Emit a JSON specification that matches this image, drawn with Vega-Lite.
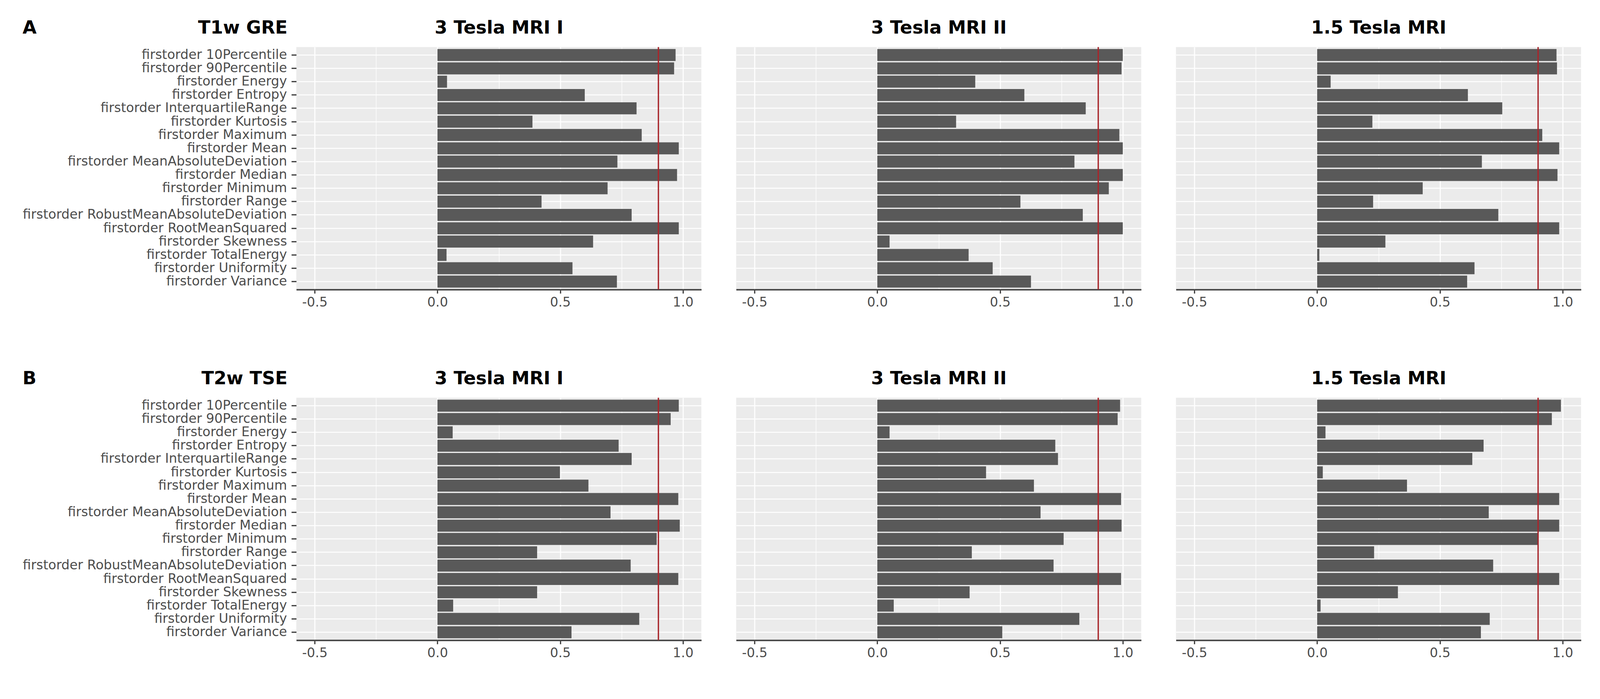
{
  "$schema": "https://vega.github.io/schema/vega-lite/v6.json",
  "background": "white",
  "padding": {"left": 57.5, "top": 48.5, "right": 20, "bottom": 20},
  "config": {
    "font": "DejaVu Sans",
    "view": {"fill": "#EBEBEB", "stroke": null},
    "title": {"fontSize": 46.5, "fontWeight": "bold", "color": "black", "font": "DejaVu Sans"},
    "axis": {
      "gridColor": "white",
      "labelColor": "#4D4D4D",
      "labelFont": "DejaVu Sans",
      "titleFont": "DejaVu Sans",
      "tickColor": "#333333",
      "tickWidth": 3,
      "domain": false,
      "labelLimit": 1000
    }
  },
  "datasets": {
    "cutoff": [{"cutoff": 0.9}],
    "scores": [
      {"sequence": "T1w GRE", "scanner": "3 Tesla MRI I", "feature": "firstorder 10Percentile", "value": 0.970},
      {"sequence": "T1w GRE", "scanner": "3 Tesla MRI I", "feature": "firstorder 90Percentile", "value": 0.964},
      {"sequence": "T1w GRE", "scanner": "3 Tesla MRI I", "feature": "firstorder Energy", "value": 0.039},
      {"sequence": "T1w GRE", "scanner": "3 Tesla MRI I", "feature": "firstorder Entropy", "value": 0.600},
      {"sequence": "T1w GRE", "scanner": "3 Tesla MRI I", "feature": "firstorder InterquartileRange", "value": 0.811},
      {"sequence": "T1w GRE", "scanner": "3 Tesla MRI I", "feature": "firstorder Kurtosis", "value": 0.387},
      {"sequence": "T1w GRE", "scanner": "3 Tesla MRI I", "feature": "firstorder Maximum", "value": 0.832},
      {"sequence": "T1w GRE", "scanner": "3 Tesla MRI I", "feature": "firstorder Mean", "value": 0.983},
      {"sequence": "T1w GRE", "scanner": "3 Tesla MRI I", "feature": "firstorder MeanAbsoluteDeviation", "value": 0.733},
      {"sequence": "T1w GRE", "scanner": "3 Tesla MRI I", "feature": "firstorder Median", "value": 0.976},
      {"sequence": "T1w GRE", "scanner": "3 Tesla MRI I", "feature": "firstorder Minimum", "value": 0.693},
      {"sequence": "T1w GRE", "scanner": "3 Tesla MRI I", "feature": "firstorder Range", "value": 0.424},
      {"sequence": "T1w GRE", "scanner": "3 Tesla MRI I", "feature": "firstorder RobustMeanAbsoluteDeviation", "value": 0.791},
      {"sequence": "T1w GRE", "scanner": "3 Tesla MRI I", "feature": "firstorder RootMeanSquared", "value": 0.983},
      {"sequence": "T1w GRE", "scanner": "3 Tesla MRI I", "feature": "firstorder Skewness", "value": 0.634},
      {"sequence": "T1w GRE", "scanner": "3 Tesla MRI I", "feature": "firstorder TotalEnergy", "value": 0.037},
      {"sequence": "T1w GRE", "scanner": "3 Tesla MRI I", "feature": "firstorder Uniformity", "value": 0.550},
      {"sequence": "T1w GRE", "scanner": "3 Tesla MRI I", "feature": "firstorder Variance", "value": 0.731},
      {"sequence": "T1w GRE", "scanner": "3 Tesla MRI II", "feature": "firstorder 10Percentile", "value": 1.000},
      {"sequence": "T1w GRE", "scanner": "3 Tesla MRI II", "feature": "firstorder 90Percentile", "value": 0.995},
      {"sequence": "T1w GRE", "scanner": "3 Tesla MRI II", "feature": "firstorder Energy", "value": 0.399},
      {"sequence": "T1w GRE", "scanner": "3 Tesla MRI II", "feature": "firstorder Entropy", "value": 0.599},
      {"sequence": "T1w GRE", "scanner": "3 Tesla MRI II", "feature": "firstorder InterquartileRange", "value": 0.849},
      {"sequence": "T1w GRE", "scanner": "3 Tesla MRI II", "feature": "firstorder Kurtosis", "value": 0.321},
      {"sequence": "T1w GRE", "scanner": "3 Tesla MRI II", "feature": "firstorder Maximum", "value": 0.986},
      {"sequence": "T1w GRE", "scanner": "3 Tesla MRI II", "feature": "firstorder Mean", "value": 1.000},
      {"sequence": "T1w GRE", "scanner": "3 Tesla MRI II", "feature": "firstorder MeanAbsoluteDeviation", "value": 0.803},
      {"sequence": "T1w GRE", "scanner": "3 Tesla MRI II", "feature": "firstorder Median", "value": 1.000},
      {"sequence": "T1w GRE", "scanner": "3 Tesla MRI II", "feature": "firstorder Minimum", "value": 0.943},
      {"sequence": "T1w GRE", "scanner": "3 Tesla MRI II", "feature": "firstorder Range", "value": 0.583},
      {"sequence": "T1w GRE", "scanner": "3 Tesla MRI II", "feature": "firstorder RobustMeanAbsoluteDeviation", "value": 0.837},
      {"sequence": "T1w GRE", "scanner": "3 Tesla MRI II", "feature": "firstorder RootMeanSquared", "value": 1.000},
      {"sequence": "T1w GRE", "scanner": "3 Tesla MRI II", "feature": "firstorder Skewness", "value": 0.050},
      {"sequence": "T1w GRE", "scanner": "3 Tesla MRI II", "feature": "firstorder TotalEnergy", "value": 0.372},
      {"sequence": "T1w GRE", "scanner": "3 Tesla MRI II", "feature": "firstorder Uniformity", "value": 0.470},
      {"sequence": "T1w GRE", "scanner": "3 Tesla MRI II", "feature": "firstorder Variance", "value": 0.626},
      {"sequence": "T1w GRE", "scanner": "1.5 Tesla MRI", "feature": "firstorder 10Percentile", "value": 0.975},
      {"sequence": "T1w GRE", "scanner": "1.5 Tesla MRI", "feature": "firstorder 90Percentile", "value": 0.977},
      {"sequence": "T1w GRE", "scanner": "1.5 Tesla MRI", "feature": "firstorder Energy", "value": 0.055},
      {"sequence": "T1w GRE", "scanner": "1.5 Tesla MRI", "feature": "firstorder Entropy", "value": 0.614},
      {"sequence": "T1w GRE", "scanner": "1.5 Tesla MRI", "feature": "firstorder InterquartileRange", "value": 0.754},
      {"sequence": "T1w GRE", "scanner": "1.5 Tesla MRI", "feature": "firstorder Kurtosis", "value": 0.225},
      {"sequence": "T1w GRE", "scanner": "1.5 Tesla MRI", "feature": "firstorder Maximum", "value": 0.917},
      {"sequence": "T1w GRE", "scanner": "1.5 Tesla MRI", "feature": "firstorder Mean", "value": 0.986},
      {"sequence": "T1w GRE", "scanner": "1.5 Tesla MRI", "feature": "firstorder MeanAbsoluteDeviation", "value": 0.671},
      {"sequence": "T1w GRE", "scanner": "1.5 Tesla MRI", "feature": "firstorder Median", "value": 0.979},
      {"sequence": "T1w GRE", "scanner": "1.5 Tesla MRI", "feature": "firstorder Minimum", "value": 0.430},
      {"sequence": "T1w GRE", "scanner": "1.5 Tesla MRI", "feature": "firstorder Range", "value": 0.228},
      {"sequence": "T1w GRE", "scanner": "1.5 Tesla MRI", "feature": "firstorder RobustMeanAbsoluteDeviation", "value": 0.738},
      {"sequence": "T1w GRE", "scanner": "1.5 Tesla MRI", "feature": "firstorder RootMeanSquared", "value": 0.986},
      {"sequence": "T1w GRE", "scanner": "1.5 Tesla MRI", "feature": "firstorder Skewness", "value": 0.278},
      {"sequence": "T1w GRE", "scanner": "1.5 Tesla MRI", "feature": "firstorder TotalEnergy", "value": 0.009},
      {"sequence": "T1w GRE", "scanner": "1.5 Tesla MRI", "feature": "firstorder Uniformity", "value": 0.641},
      {"sequence": "T1w GRE", "scanner": "1.5 Tesla MRI", "feature": "firstorder Variance", "value": 0.611},
      {"sequence": "T2w TSE", "scanner": "3 Tesla MRI I", "feature": "firstorder 10Percentile", "value": 0.983},
      {"sequence": "T2w TSE", "scanner": "3 Tesla MRI I", "feature": "firstorder 90Percentile", "value": 0.950},
      {"sequence": "T2w TSE", "scanner": "3 Tesla MRI I", "feature": "firstorder Energy", "value": 0.062},
      {"sequence": "T2w TSE", "scanner": "3 Tesla MRI I", "feature": "firstorder Entropy", "value": 0.738},
      {"sequence": "T2w TSE", "scanner": "3 Tesla MRI I", "feature": "firstorder InterquartileRange", "value": 0.791},
      {"sequence": "T2w TSE", "scanner": "3 Tesla MRI I", "feature": "firstorder Kurtosis", "value": 0.499},
      {"sequence": "T2w TSE", "scanner": "3 Tesla MRI I", "feature": "firstorder Maximum", "value": 0.615},
      {"sequence": "T2w TSE", "scanner": "3 Tesla MRI I", "feature": "firstorder Mean", "value": 0.981},
      {"sequence": "T2w TSE", "scanner": "3 Tesla MRI I", "feature": "firstorder MeanAbsoluteDeviation", "value": 0.705},
      {"sequence": "T2w TSE", "scanner": "3 Tesla MRI I", "feature": "firstorder Median", "value": 0.987},
      {"sequence": "T2w TSE", "scanner": "3 Tesla MRI I", "feature": "firstorder Minimum", "value": 0.893},
      {"sequence": "T2w TSE", "scanner": "3 Tesla MRI I", "feature": "firstorder Range", "value": 0.406},
      {"sequence": "T2w TSE", "scanner": "3 Tesla MRI I", "feature": "firstorder RobustMeanAbsoluteDeviation", "value": 0.787},
      {"sequence": "T2w TSE", "scanner": "3 Tesla MRI I", "feature": "firstorder RootMeanSquared", "value": 0.981},
      {"sequence": "T2w TSE", "scanner": "3 Tesla MRI I", "feature": "firstorder Skewness", "value": 0.406},
      {"sequence": "T2w TSE", "scanner": "3 Tesla MRI I", "feature": "firstorder TotalEnergy", "value": 0.064},
      {"sequence": "T2w TSE", "scanner": "3 Tesla MRI I", "feature": "firstorder Uniformity", "value": 0.822},
      {"sequence": "T2w TSE", "scanner": "3 Tesla MRI I", "feature": "firstorder Variance", "value": 0.546},
      {"sequence": "T2w TSE", "scanner": "3 Tesla MRI II", "feature": "firstorder 10Percentile", "value": 0.989},
      {"sequence": "T2w TSE", "scanner": "3 Tesla MRI II", "feature": "firstorder 90Percentile", "value": 0.979},
      {"sequence": "T2w TSE", "scanner": "3 Tesla MRI II", "feature": "firstorder Energy", "value": 0.050},
      {"sequence": "T2w TSE", "scanner": "3 Tesla MRI II", "feature": "firstorder Entropy", "value": 0.725},
      {"sequence": "T2w TSE", "scanner": "3 Tesla MRI II", "feature": "firstorder InterquartileRange", "value": 0.736},
      {"sequence": "T2w TSE", "scanner": "3 Tesla MRI II", "feature": "firstorder Kurtosis", "value": 0.443},
      {"sequence": "T2w TSE", "scanner": "3 Tesla MRI II", "feature": "firstorder Maximum", "value": 0.638},
      {"sequence": "T2w TSE", "scanner": "3 Tesla MRI II", "feature": "firstorder Mean", "value": 0.993},
      {"sequence": "T2w TSE", "scanner": "3 Tesla MRI II", "feature": "firstorder MeanAbsoluteDeviation", "value": 0.665},
      {"sequence": "T2w TSE", "scanner": "3 Tesla MRI II", "feature": "firstorder Median", "value": 0.995},
      {"sequence": "T2w TSE", "scanner": "3 Tesla MRI II", "feature": "firstorder Minimum", "value": 0.759},
      {"sequence": "T2w TSE", "scanner": "3 Tesla MRI II", "feature": "firstorder Range", "value": 0.385},
      {"sequence": "T2w TSE", "scanner": "3 Tesla MRI II", "feature": "firstorder RobustMeanAbsoluteDeviation", "value": 0.718},
      {"sequence": "T2w TSE", "scanner": "3 Tesla MRI II", "feature": "firstorder RootMeanSquared", "value": 0.993},
      {"sequence": "T2w TSE", "scanner": "3 Tesla MRI II", "feature": "firstorder Skewness", "value": 0.376},
      {"sequence": "T2w TSE", "scanner": "3 Tesla MRI II", "feature": "firstorder TotalEnergy", "value": 0.067},
      {"sequence": "T2w TSE", "scanner": "3 Tesla MRI II", "feature": "firstorder Uniformity", "value": 0.823},
      {"sequence": "T2w TSE", "scanner": "3 Tesla MRI II", "feature": "firstorder Variance", "value": 0.509},
      {"sequence": "T2w TSE", "scanner": "1.5 Tesla MRI", "feature": "firstorder 10Percentile", "value": 0.993},
      {"sequence": "T2w TSE", "scanner": "1.5 Tesla MRI", "feature": "firstorder 90Percentile", "value": 0.956},
      {"sequence": "T2w TSE", "scanner": "1.5 Tesla MRI", "feature": "firstorder Energy", "value": 0.034},
      {"sequence": "T2w TSE", "scanner": "1.5 Tesla MRI", "feature": "firstorder Entropy", "value": 0.678},
      {"sequence": "T2w TSE", "scanner": "1.5 Tesla MRI", "feature": "firstorder InterquartileRange", "value": 0.632},
      {"sequence": "T2w TSE", "scanner": "1.5 Tesla MRI", "feature": "firstorder Kurtosis", "value": 0.023},
      {"sequence": "T2w TSE", "scanner": "1.5 Tesla MRI", "feature": "firstorder Maximum", "value": 0.366},
      {"sequence": "T2w TSE", "scanner": "1.5 Tesla MRI", "feature": "firstorder Mean", "value": 0.986},
      {"sequence": "T2w TSE", "scanner": "1.5 Tesla MRI", "feature": "firstorder MeanAbsoluteDeviation", "value": 0.699},
      {"sequence": "T2w TSE", "scanner": "1.5 Tesla MRI", "feature": "firstorder Median", "value": 0.986},
      {"sequence": "T2w TSE", "scanner": "1.5 Tesla MRI", "feature": "firstorder Minimum", "value": 0.899},
      {"sequence": "T2w TSE", "scanner": "1.5 Tesla MRI", "feature": "firstorder Range", "value": 0.232},
      {"sequence": "T2w TSE", "scanner": "1.5 Tesla MRI", "feature": "firstorder RobustMeanAbsoluteDeviation", "value": 0.717},
      {"sequence": "T2w TSE", "scanner": "1.5 Tesla MRI", "feature": "firstorder RootMeanSquared", "value": 0.986},
      {"sequence": "T2w TSE", "scanner": "1.5 Tesla MRI", "feature": "firstorder Skewness", "value": 0.329},
      {"sequence": "T2w TSE", "scanner": "1.5 Tesla MRI", "feature": "firstorder TotalEnergy", "value": 0.014},
      {"sequence": "T2w TSE", "scanner": "1.5 Tesla MRI", "feature": "firstorder Uniformity", "value": 0.703},
      {"sequence": "T2w TSE", "scanner": "1.5 Tesla MRI", "feature": "firstorder Variance", "value": 0.667}
    ]
  },
  "spacing": 156,
  "vconcat": [
    {
      "spacing": 89,
      "hconcat": [
        {
          "title": {"text": "A", "anchor": "start", "baseline": "alphabetic", "offset": -84},
          "width": 1037, "height": 621,
          "layer": [
            {
              "data": {"name": "scores"},
              "transform": [{"filter": "datum.sequence === 'T1w GRE' && datum.scanner === '3 Tesla MRI I'"}],
              "mark": {"type": "bar", "color": "#595959"},
              "encoding": {
                "y": {"field": "feature", "type": "nominal", "sort": "ascending", "scale": {"paddingInner": 0.1, "paddingOuter": 0.15},
                  "axis": {"title": "T1w GRE", "titleAngle": 0, "titleAlign": "right", "titleBaseline": "alphabetic", "titleX": -23, "titleY": -35, "titleFontSize": 46.5, "titleFontWeight": "bold", "titleColor": "black", "labelFontSize": 33.4, "labelPadding": 11.6, "ticks": true, "tickSize": 12.6, "grid": true, "gridWidth": 2.5, "bandPosition": 0.5}},
                "x": {"field": "value", "type": "quantitative", "scale": {"domain": [-0.575, 1.075], "nice": false, "zero": false},
                  "axis": {"title": null, "orient": "bottom", "values": [-0.5, -0.25, 0, 0.25, 0.5, 0.75, 1], "labelExpr": "abs(datum.value % 0.5) < 0.001 ? (datum.value < 0 ? '-' + format(-datum.value, '.1f') : format(datum.value, '.1f')) : ''", "labelOverlap": false, "labelFlush": false, "grid": true, "gridWidth": {"condition": {"test": "abs(datum.value % 0.5) < 0.001", "value": 2.7}, "value": 1.35}, "tickOpacity": {"condition": {"test": "abs(datum.value % 0.5) < 0.001", "value": 1}, "value": 0}, "tickSize": 9.7, "domain": true, "domainColor": "#4D4D4D", "domainWidth": 3.9, "labelFontSize": 33.4, "labelPadding": 6.8}}
              }
            },
            {
              "data": {"name": "cutoff"},
              "mark": {"type": "rule", "color": "#A8262B", "strokeWidth": 3.4},
              "encoding": {"x": {"field": "cutoff", "type": "quantitative", "axis": {"orient": "top", "title": "3 Tesla MRI I", "labels": false, "ticks": false, "domain": false, "grid": false, "titleFontSize": 46.5, "titleFontWeight": "bold", "titleColor": "black", "titleBaseline": "alphabetic", "titleY": -35}}}
            }
          ],
          "resolve": {"axis": {"x": "independent"}}
        },
        {
          "width": 1037, "height": 621,
          "layer": [
            {
              "data": {"name": "scores"},
              "transform": [{"filter": "datum.sequence === 'T1w GRE' && datum.scanner === '3 Tesla MRI II'"}],
              "mark": {"type": "bar", "color": "#595959"},
              "encoding": {
                "y": {"field": "feature", "type": "nominal", "sort": "ascending", "scale": {"paddingInner": 0.1, "paddingOuter": 0.15},
                  "axis": {"title": null, "labels": false, "ticks": false, "grid": true, "gridWidth": 2.5, "bandPosition": 0.5}},
                "x": {"field": "value", "type": "quantitative", "scale": {"domain": [-0.575, 1.075], "nice": false, "zero": false},
                  "axis": {"title": null, "orient": "bottom", "values": [-0.5, -0.25, 0, 0.25, 0.5, 0.75, 1], "labelExpr": "abs(datum.value % 0.5) < 0.001 ? (datum.value < 0 ? '-' + format(-datum.value, '.1f') : format(datum.value, '.1f')) : ''", "labelOverlap": false, "labelFlush": false, "grid": true, "gridWidth": {"condition": {"test": "abs(datum.value % 0.5) < 0.001", "value": 2.7}, "value": 1.35}, "tickOpacity": {"condition": {"test": "abs(datum.value % 0.5) < 0.001", "value": 1}, "value": 0}, "tickSize": 9.7, "domain": true, "domainColor": "#4D4D4D", "domainWidth": 3.9, "labelFontSize": 33.4, "labelPadding": 6.8}}
              }
            },
            {
              "data": {"name": "cutoff"},
              "mark": {"type": "rule", "color": "#A8262B", "strokeWidth": 3.4},
              "encoding": {"x": {"field": "cutoff", "type": "quantitative", "axis": {"orient": "top", "title": "3 Tesla MRI II", "labels": false, "ticks": false, "domain": false, "grid": false, "titleFontSize": 46.5, "titleFontWeight": "bold", "titleColor": "black", "titleBaseline": "alphabetic", "titleY": -35}}}
            }
          ],
          "resolve": {"axis": {"x": "independent"}}
        },
        {
          "width": 1037, "height": 621,
          "layer": [
            {
              "data": {"name": "scores"},
              "transform": [{"filter": "datum.sequence === 'T1w GRE' && datum.scanner === '1.5 Tesla MRI'"}],
              "mark": {"type": "bar", "color": "#595959"},
              "encoding": {
                "y": {"field": "feature", "type": "nominal", "sort": "ascending", "scale": {"paddingInner": 0.1, "paddingOuter": 0.15},
                  "axis": {"title": null, "labels": false, "ticks": false, "grid": true, "gridWidth": 2.5, "bandPosition": 0.5}},
                "x": {"field": "value", "type": "quantitative", "scale": {"domain": [-0.575, 1.075], "nice": false, "zero": false},
                  "axis": {"title": null, "orient": "bottom", "values": [-0.5, -0.25, 0, 0.25, 0.5, 0.75, 1], "labelExpr": "abs(datum.value % 0.5) < 0.001 ? (datum.value < 0 ? '-' + format(-datum.value, '.1f') : format(datum.value, '.1f')) : ''", "labelOverlap": false, "labelFlush": false, "grid": true, "gridWidth": {"condition": {"test": "abs(datum.value % 0.5) < 0.001", "value": 2.7}, "value": 1.35}, "tickOpacity": {"condition": {"test": "abs(datum.value % 0.5) < 0.001", "value": 1}, "value": 0}, "tickSize": 9.7, "domain": true, "domainColor": "#4D4D4D", "domainWidth": 3.9, "labelFontSize": 33.4, "labelPadding": 6.8}}
              }
            },
            {
              "data": {"name": "cutoff"},
              "mark": {"type": "rule", "color": "#A8262B", "strokeWidth": 3.4},
              "encoding": {"x": {"field": "cutoff", "type": "quantitative", "axis": {"orient": "top", "title": "1.5 Tesla MRI", "labels": false, "ticks": false, "domain": false, "grid": false, "titleFontSize": 46.5, "titleFontWeight": "bold", "titleColor": "black", "titleBaseline": "alphabetic", "titleY": -35}}}
            }
          ],
          "resolve": {"axis": {"x": "independent"}}
        }
      ]
    },
    {
      "spacing": 89,
      "hconcat": [
        {
          "title": {"text": "B", "anchor": "start", "baseline": "alphabetic", "offset": -84},
          "width": 1037, "height": 621,
          "layer": [
            {
              "data": {"name": "scores"},
              "transform": [{"filter": "datum.sequence === 'T2w TSE' && datum.scanner === '3 Tesla MRI I'"}],
              "mark": {"type": "bar", "color": "#595959"},
              "encoding": {
                "y": {"field": "feature", "type": "nominal", "sort": "ascending", "scale": {"paddingInner": 0.1, "paddingOuter": 0.15},
                  "axis": {"title": "T2w TSE", "titleAngle": 0, "titleAlign": "right", "titleBaseline": "alphabetic", "titleX": -23, "titleY": -35, "titleFontSize": 46.5, "titleFontWeight": "bold", "titleColor": "black", "labelFontSize": 33.4, "labelPadding": 11.6, "ticks": true, "tickSize": 12.6, "grid": true, "gridWidth": 2.5, "bandPosition": 0.5}},
                "x": {"field": "value", "type": "quantitative", "scale": {"domain": [-0.575, 1.075], "nice": false, "zero": false},
                  "axis": {"title": null, "orient": "bottom", "values": [-0.5, -0.25, 0, 0.25, 0.5, 0.75, 1], "labelExpr": "abs(datum.value % 0.5) < 0.001 ? (datum.value < 0 ? '-' + format(-datum.value, '.1f') : format(datum.value, '.1f')) : ''", "labelOverlap": false, "labelFlush": false, "grid": true, "gridWidth": {"condition": {"test": "abs(datum.value % 0.5) < 0.001", "value": 2.7}, "value": 1.35}, "tickOpacity": {"condition": {"test": "abs(datum.value % 0.5) < 0.001", "value": 1}, "value": 0}, "tickSize": 9.7, "domain": true, "domainColor": "#4D4D4D", "domainWidth": 3.9, "labelFontSize": 33.4, "labelPadding": 6.8}}
              }
            },
            {
              "data": {"name": "cutoff"},
              "mark": {"type": "rule", "color": "#A8262B", "strokeWidth": 3.4},
              "encoding": {"x": {"field": "cutoff", "type": "quantitative", "axis": {"orient": "top", "title": "3 Tesla MRI I", "labels": false, "ticks": false, "domain": false, "grid": false, "titleFontSize": 46.5, "titleFontWeight": "bold", "titleColor": "black", "titleBaseline": "alphabetic", "titleY": -35}}}
            }
          ],
          "resolve": {"axis": {"x": "independent"}}
        },
        {
          "width": 1037, "height": 621,
          "layer": [
            {
              "data": {"name": "scores"},
              "transform": [{"filter": "datum.sequence === 'T2w TSE' && datum.scanner === '3 Tesla MRI II'"}],
              "mark": {"type": "bar", "color": "#595959"},
              "encoding": {
                "y": {"field": "feature", "type": "nominal", "sort": "ascending", "scale": {"paddingInner": 0.1, "paddingOuter": 0.15},
                  "axis": {"title": null, "labels": false, "ticks": false, "grid": true, "gridWidth": 2.5, "bandPosition": 0.5}},
                "x": {"field": "value", "type": "quantitative", "scale": {"domain": [-0.575, 1.075], "nice": false, "zero": false},
                  "axis": {"title": null, "orient": "bottom", "values": [-0.5, -0.25, 0, 0.25, 0.5, 0.75, 1], "labelExpr": "abs(datum.value % 0.5) < 0.001 ? (datum.value < 0 ? '-' + format(-datum.value, '.1f') : format(datum.value, '.1f')) : ''", "labelOverlap": false, "labelFlush": false, "grid": true, "gridWidth": {"condition": {"test": "abs(datum.value % 0.5) < 0.001", "value": 2.7}, "value": 1.35}, "tickOpacity": {"condition": {"test": "abs(datum.value % 0.5) < 0.001", "value": 1}, "value": 0}, "tickSize": 9.7, "domain": true, "domainColor": "#4D4D4D", "domainWidth": 3.9, "labelFontSize": 33.4, "labelPadding": 6.8}}
              }
            },
            {
              "data": {"name": "cutoff"},
              "mark": {"type": "rule", "color": "#A8262B", "strokeWidth": 3.4},
              "encoding": {"x": {"field": "cutoff", "type": "quantitative", "axis": {"orient": "top", "title": "3 Tesla MRI II", "labels": false, "ticks": false, "domain": false, "grid": false, "titleFontSize": 46.5, "titleFontWeight": "bold", "titleColor": "black", "titleBaseline": "alphabetic", "titleY": -35}}}
            }
          ],
          "resolve": {"axis": {"x": "independent"}}
        },
        {
          "width": 1037, "height": 621,
          "layer": [
            {
              "data": {"name": "scores"},
              "transform": [{"filter": "datum.sequence === 'T2w TSE' && datum.scanner === '1.5 Tesla MRI'"}],
              "mark": {"type": "bar", "color": "#595959"},
              "encoding": {
                "y": {"field": "feature", "type": "nominal", "sort": "ascending", "scale": {"paddingInner": 0.1, "paddingOuter": 0.15},
                  "axis": {"title": null, "labels": false, "ticks": false, "grid": true, "gridWidth": 2.5, "bandPosition": 0.5}},
                "x": {"field": "value", "type": "quantitative", "scale": {"domain": [-0.575, 1.075], "nice": false, "zero": false},
                  "axis": {"title": null, "orient": "bottom", "values": [-0.5, -0.25, 0, 0.25, 0.5, 0.75, 1], "labelExpr": "abs(datum.value % 0.5) < 0.001 ? (datum.value < 0 ? '-' + format(-datum.value, '.1f') : format(datum.value, '.1f')) : ''", "labelOverlap": false, "labelFlush": false, "grid": true, "gridWidth": {"condition": {"test": "abs(datum.value % 0.5) < 0.001", "value": 2.7}, "value": 1.35}, "tickOpacity": {"condition": {"test": "abs(datum.value % 0.5) < 0.001", "value": 1}, "value": 0}, "tickSize": 9.7, "domain": true, "domainColor": "#4D4D4D", "domainWidth": 3.9, "labelFontSize": 33.4, "labelPadding": 6.8}}
              }
            },
            {
              "data": {"name": "cutoff"},
              "mark": {"type": "rule", "color": "#A8262B", "strokeWidth": 3.4},
              "encoding": {"x": {"field": "cutoff", "type": "quantitative", "axis": {"orient": "top", "title": "1.5 Tesla MRI", "labels": false, "ticks": false, "domain": false, "grid": false, "titleFontSize": 46.5, "titleFontWeight": "bold", "titleColor": "black", "titleBaseline": "alphabetic", "titleY": -35}}}
            }
          ],
          "resolve": {"axis": {"x": "independent"}}
        }
      ]
    }
  ]
}
